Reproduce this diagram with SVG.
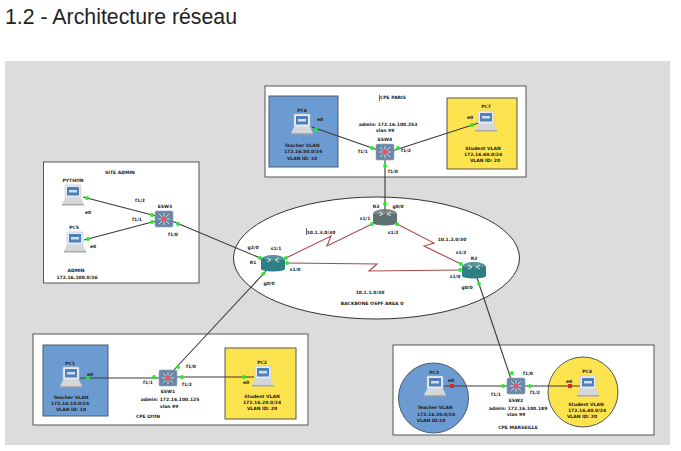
<svg xmlns="http://www.w3.org/2000/svg" width="681" height="451" viewBox="0 0 681 451">
<style>
.t{font-family:"DejaVu Sans",sans-serif;font-weight:700;font-size:4.500px;fill:#222;text-anchor:middle}
.box{fill:#fff;stroke:#555;stroke-width:1}
.blue{fill:#6c9bd2;stroke:#4a5a70;stroke-width:1}
.yel{fill:#fde44f;stroke:#555;stroke-width:1}
.link{fill:none;stroke:#3a3a3a;stroke-width:1.100}
.ser{fill:none;stroke:#a84a4a;stroke-width:1.100}
.d{fill:#22ee22}
.r{fill:#e8202a}
</style>
<defs>
<g id="pc">
<rect x="3" y="0" width="16" height="13" rx="1" fill="#e8ecf2" stroke="#b8c0cc" stroke-width=".6"/>
<rect x="5" y="2" width="12" height="8.500" fill="#4f7fb5"/>
<rect x="7" y="5" width="8" height="2.500" fill="#cfe0f2"/>
<path d="M3 13h16l3 6H0z" fill="#d4d6d8"/>
<rect x="0" y="19" width="22" height="1.500" fill="#aaa"/>
</g>
<g id="sw">
<rect x="-9" y="-8" width="18" height="16" rx="1.500" fill="#6a88a6" stroke="#8fa6bc" stroke-width=".6"/>
<path d="M-5 -5L5 5M5 -5L-5 5M0 -6V6M-6 0H6" stroke="#dfe8f0" stroke-width=".8"/>
<circle r="2.600" fill="#e4566e"/>
</g>
<g id="rt">
<rect x="-12" y="-2" width="24" height="9" fill="currentColor"/>
<ellipse cy="7" rx="12" ry="2.500" fill="currentColor"/>
<ellipse cy="-2" rx="12" ry="5" fill="currentColor" opacity=".82"/>
<path d="M-6 -4L-2 -2L-6 0M6 -4L2 -2L6 0" fill="none" stroke="#e4eeee" stroke-width=".9"/>
</g>
</defs>
<rect width="681" height="451" fill="#fff"/>
<text x="5" y="24" font-family="'Liberation Sans',Arial,sans-serif" font-size="21.300" fill="#222">1.2 - Architecture réseau</text>
<rect x="5" y="61" width="665" height="384" fill="#dcdcdc"/>

<g id="areas">
<rect class="box" x="265" y="86" width="261" height="91"/>
<rect class="blue" x="269" y="96" width="69" height="71"/>
<rect class="yel" x="447" y="98" width="70" height="71"/>
<rect class="box" x="43.500" y="162" width="155.500" height="121"/>
<rect class="box" x="33" y="334" width="275" height="91"/>
<rect class="blue" x="43" y="345" width="65" height="71"/>
<rect class="yel" x="225" y="348" width="71" height="71"/>
<rect class="box" x="393" y="345" width="261" height="90"/>
<circle class="blue" cx="433.500" cy="398" r="35"/>
<circle class="yel" cx="583" cy="392" r="35"/>
<ellipse cx="376.500" cy="258" rx="143" ry="61" fill="#fff" stroke="#333" stroke-width="1"/>
</g>

<g id="connectors">
<path class="link" d="M312 127L378 150"/>
<path class="link" d="M491 119L392 151"/>
<path class="link" d="M385 160V211"/>
<path class="link" d="M83 197L156 216"/>
<path class="link" d="M84 240L156 221"/>
<path class="link" d="M172 221L265 260"/>
<path class="link" d="M80 378H160"/>
<path class="link" d="M176 377H254"/>
<path class="link" d="M172 372L266 271"/>
<path class="link" d="M444 386H508"/>
<path class="link" d="M524 386H580"/>
<path class="link" d="M511 379L476 275"/>
<polyline class="ser" points="286,258 331,236 327,246 372,224"/>
<polyline class="ser" points="397,224 434,243 424,246 461,264"/>
<polyline class="ser" points="287,263 377,264 369,271 460,270"/>
</g>

<g id="PC6"><use href="#pc" x="291" y="114"/><text class="t" x="302" y="112">PC6</text></g>
<g id="PC7"><use href="#pc" x="475" y="111"/><text class="t" x="486" y="108">PC7</text></g>
<g id="ESW4"><use href="#sw" x="385" y="152"/><text class="t" x="385" y="141">ESW4</text></g>
<g id="PYTHON"><use href="#pc" x="62" y="185"/><text class="t" x="73" y="182">PYTHON</text></g>
<g id="PC5"><use href="#pc" x="64" y="232"/><text class="t" x="74" y="229">PC5</text></g>
<g id="ESW3"><use href="#sw" x="164" y="219"/><text class="t" x="165" y="208">ESW3</text></g>
<g id="PC1"><use href="#pc" x="60" y="367"/><text class="t" x="70" y="365">PC1</text></g>
<g id="PC2"><use href="#pc" x="252" y="366"/><text class="t" x="262" y="364">PC2</text></g>
<g id="ESW1"><use href="#sw" x="168" y="378"/><text class="t" x="168" y="393">ESW1</text></g>
<g id="PC3"><use href="#pc" x="424" y="376"/><text class="t" x="434" y="374">PC3</text></g>
<g id="PC4"><use href="#pc" x="577" y="376"/><text class="t" x="587" y="373">PC4</text></g>
<g id="ESW2"><use href="#sw" x="516" y="386"/><text class="t" x="516" y="402">ESW2</text></g>
<g id="R1" color="#2f7f86"><use href="#rt" x="273" y="262"/><text class="t" x="253" y="264">R1</text></g>
<g id="R2" color="#2f7f86"><use href="#rt" x="474" y="269"/><text class="t" x="474" y="260">R2</text></g>
<g id="R3" color="#5f7070"><use href="#rt" x="385" y="216"/><text class="t" x="376" y="208">R3</text></g>

<g id="ports">
<g class="d">
<circle cx="316" cy="129" r="1.900"/><circle cx="372" cy="148" r="1.900"/><circle cx="472" cy="125" r="1.900"/><circle cx="398" cy="148" r="1.900"/><circle cx="385" cy="166" r="1.900"/><circle cx="385" cy="204" r="1.900"/>
<circle cx="372" cy="224" r="1.900"/><circle cx="397" cy="224" r="1.900"/><circle cx="260" cy="258" r="1.900"/><circle cx="286" cy="258" r="1.900"/><circle cx="287" cy="263" r="1.900"/><circle cx="263" cy="274" r="1.900"/>
<circle cx="461" cy="264" r="1.900"/><circle cx="460" cy="270" r="1.900"/><circle cx="479" cy="284" r="1.900"/>
<circle cx="87" cy="198" r="1.900"/><circle cx="152" cy="215" r="1.900"/><circle cx="88" cy="239" r="1.900"/><circle cx="152" cy="222" r="1.900"/><circle cx="178" cy="224" r="1.900"/>
<circle cx="88" cy="378" r="1.900"/><circle cx="154" cy="377" r="1.900"/><circle cx="182" cy="377" r="1.900"/><circle cx="244" cy="377" r="1.900"/><circle cx="178" cy="367" r="1.900"/>
<circle cx="503" cy="386" r="1.900"/><circle cx="530" cy="386" r="1.900"/><circle cx="512" cy="373" r="1.900"/>
</g>
<rect class="r" x="450" y="384" width="4" height="4"/>
<rect class="r" x="568" y="384" width="4" height="4"/>
</g>

<g id="labels">
<text class="t" x="393" y="99">CPE PARIS</text>
<path d="M379.500 95V101" stroke="#222" stroke-width=".7"/>
<text class="t" x="388" y="126">admin: 172.16.100.253</text>
<text class="t" x="385" y="132">vlan 99</text>
<text class="t" x="320" y="121">e0</text>
<text class="t" x="470" y="119">e0</text>
<text class="t" x="363" y="153">f1/1</text>
<text class="t" x="406" y="152">f1/2</text>
<text class="t" x="393" y="173">f1/0</text>
<text class="t" x="302" y="147">Teacher VLAN</text>
<text class="t" x="303" y="153">172.16.50.0/24</text>
<text class="t" x="302" y="160">VLAN ID: 10</text>
<text class="t" x="483" y="150">Student VLAN</text>
<text class="t" x="483" y="156">172.16.60.0/24</text>
<text class="t" x="485" y="162">VLAN ID: 20</text>

<text class="t" x="120" y="174">SITE ADMIN</text>
<text class="t" x="140" y="202">f1/2</text>
<text class="t" x="137" y="221">f1/1</text>
<text class="t" x="173" y="236">f1/0</text>
<text class="t" x="88" y="214">e0</text>
<text class="t" x="93" y="248">e0</text>
<text class="t" x="76" y="272">ADMIN</text>
<text class="t" x="77" y="279">172.16.100.0/26</text>

<text class="t" x="321" y="234">10.1.3.0/30</text>
<path d="M306.500 228V235" stroke="#222" stroke-width=".7"/>
<text class="t" x="452" y="241">10.1.2.0/30</text>
<text class="t" x="370" y="294">10.1.1.0/30</text>
<text class="t" x="372" y="305">BACKBONE OSPF AREA 0</text>
<text class="t" x="253" y="249">g2/0</text>
<text class="t" x="276" y="250">s1/1</text>
<text class="t" x="295" y="271">s1/0</text>
<text class="t" x="269" y="285">g0/0</text>
<text class="t" x="365" y="220">s1/1</text>
<text class="t" x="398" y="208">g0/0</text>
<text class="t" x="393" y="234">s1/2</text>
<text class="t" x="461" y="254">s1/2</text>
<text class="t" x="455" y="278">s1/0</text>
<text class="t" x="467" y="289">g0/0</text>

<text class="t" x="90" y="376">e0</text>
<text class="t" x="148" y="384">f1/1</text>
<text class="t" x="191" y="368">f1/0</text>
<text class="t" x="187" y="386">f1/2</text>
<text class="t" x="246" y="384">e0</text>
<text class="t" x="71" y="399">Teacher VLAN</text>
<text class="t" x="70" y="405">172.16.10.0/24</text>
<text class="t" x="71" y="411">VLAN ID: 10</text>
<text class="t" x="262" y="398">Student VLAN</text>
<text class="t" x="262" y="404">172.16.20.0/24</text>
<text class="t" x="262" y="410">VLAN ID: 20</text>
<text class="t" x="170" y="401">admin: 172.16.100.125</text>
<text class="t" x="169" y="408">vlan 99</text>
<text class="t" x="148" y="418">CPE LYON</text>

<text class="t" x="451" y="382">e0</text>
<text class="t" x="496" y="396">f1/1</text>
<text class="t" x="528" y="375">f1/0</text>
<text class="t" x="535" y="394">f1/2</text>
<text class="t" x="569" y="383">e0</text>
<text class="t" x="435" y="409">Teacher VLAN</text>
<text class="t" x="436" y="416">172.16.30.0/24</text>
<text class="t" x="431" y="422">VLAN ID:10</text>
<text class="t" x="586" y="406">Student VLAN</text>
<text class="t" x="587" y="412">172.16.40.0/24</text>
<text class="t" x="582" y="418">VLAN ID: 20</text>
<text class="t" x="518" y="410">admin: 172.16.100.189</text>
<text class="t" x="516" y="416">vlan 99</text>
<text class="t" x="518" y="429">CPE MARSEILLE</text>
</g>
</svg>
